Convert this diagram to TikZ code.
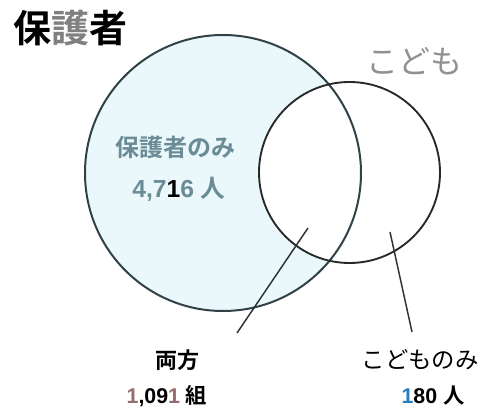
\documentclass[tikz,border=0pt]{standalone}
\usepackage{fontspec}
\setmainfont{Liberation Sans}
\newfontfamily\jpf{Noto Sans CJK JP}[BoldFont={Noto Sans CJK JP Bold}]

\definecolor{hogocyan}{RGB}{234,248,251}
\definecolor{hogoline}{RGB}{48,66,72}
\definecolor{hogotext}{RGB}{106,140,150}
\definecolor{kodogray}{RGB}{145,145,145}
\definecolor{kumibrown}{RGB}{150,108,108}
\definecolor{hitoblue}{RGB}{40,125,190}

\tikzset{every picture/.style={line width=0.75pt}}
\tikzset{
  hogo/.style={circle,draw=hogoline,line width=1.5pt,inner sep=0pt,minimum size=207pt},
  kodo/.style={circle,draw={rgb,255:red,40;green,40;blue,40},line width=1.4pt,inner sep=0pt,minimum size=135.75pt},
  leader/.style={draw={rgb,255:red,45;green,50;blue,52},line width=1.1pt},
  txt/.style={inner sep=0.75pt,anchor=center}
}

\begin{document}
\begin{tikzpicture}[x=0.75pt,y=0.75pt,yscale=-1,xscale=1]
\useasboundingbox (0,0) rectangle (489,416);

%Shape: Circle fills
\fill[hogocyan] (223,173) circle (138);
\fill[white] (349.5,172.5) circle (90.5);
%Shape: Circle outlines
\node[hogo] (hogosha) at (223,173) {};
\node[kodo] (kodomo) at (349.5,172.5) {};

%Straight Lines
\coordinate (bothtip) at (308,228);
\coordinate (bothend) at (237,333);
\draw[leader] (bothtip) -- (bothend);
\coordinate (kidtip) at (390,232);
\coordinate (kidend) at (412,332);
\draw[leader] (kidtip) -- (kidend);

% Text Node
\node[txt] (hogotitle) at (70,28) {\jpf\fontsize{28.5}{30}\selectfont\bfseries 保{\color{gray}護}者};
% Text Node
\node[txt,text=kodogray] (kodotitle) at (414,61) {\jpf\fontsize{24}{26}\selectfont こども};
% Text Node
\node[txt,text=hogotext] (hogoonly) at (175,147) {\jpf\fontsize{18}{20}\selectfont\bfseries 保護者のみ};
% Text Node
\node[txt,text=hogotext] (hogocount) at (179,189) {\fontsize{18.5}{20}\selectfont\bfseries 4,7{\color{black}1}6 {\jpf 人}};
% Text Node
\node[txt] (bothlabel) at (177,360) {\jpf\fontsize{16.5}{18}\selectfont\bfseries 両方};
% Text Node
\node[txt] (kidlabel) at (420,360) {\jpf\fontsize{17.5}{19}\selectfont こどものみ};
% Text Node
\node[txt] (bothcount) at (167,396) {\fontsize{16}{18}\selectfont\bfseries{\color{kumibrown}1},09{\color{kumibrown}1} {\jpf 組}};
% Text Node
\node[txt] (kidcount) at (433,396) {\fontsize{16}{18}\selectfont\bfseries{\color{hitoblue}1}80 {\jpf 人}};

\end{tikzpicture}
\end{document}
